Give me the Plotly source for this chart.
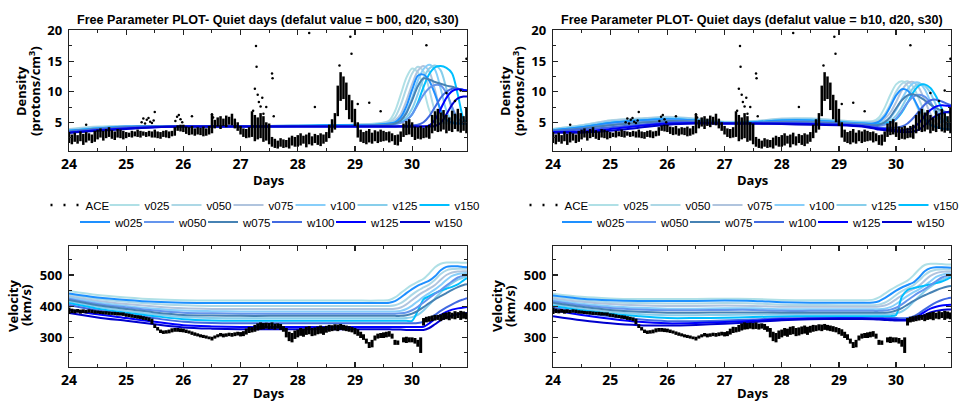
import plotly.graph_objects as go

W, H = 963, 405

# ---------------- data ----------------
SERIES = ["v025", "v050", "v075", "v100", "v125", "v150",
          "w025", "w050", "w075", "w100", "w125", "w150"]
COLORS = ["#B0E0E6", "#ADD8E6", "#B0C4DE", "#87CEFA", "#87CEEB", "#00BFFF",
          "#1E90FF", "#6495ED", "#4682B4", "#4169E1", "#0000FF", "#0000CD"]

T = [24.0, 24.5, 25.0, 25.5, 26.0, 26.5, 27.0, 27.5, 28.0, 28.5, 29.0, 29.4,
     29.6, 29.7, 29.8, 29.9, 30.0, 30.1, 30.2, 30.3, 30.4, 30.5, 30.6, 30.7, 30.8, 30.9, 30.96]

# density, default b00
DENS_B00 = {
    "v025": [3.9,4.3,4.4,4.4,4.4,4.4,4.4,4.4,4.5,4.5,4.6,4.8, 5.3,6.8,9.5,12.3,13.8,13.2,10.5,7.0,5.3,4.9,4.8,4.8,4.8,4.8,4.8],
    "v050": [3.8,4.2,4.4,4.4,4.4,4.4,4.4,4.4,4.5,4.5,4.6,4.8, 5.1,5.8,7.8,10.6,13.0,14.1,13.3,10.4,6.8,5.2,4.9,4.8,4.8,4.8,4.8],
    "v075": [3.8,4.2,4.3,4.4,4.4,4.4,4.4,4.4,4.5,4.5,4.6,4.7, 5.0,5.3,6.3,8.5,11.2,13.4,14.2,13.3,10.3,6.8,5.2,4.9,4.8,4.8,4.8],
    "v100": [3.7,4.1,4.3,4.4,4.4,4.4,4.4,4.4,4.5,4.5,4.5,4.7, 4.9,5.1,5.6,6.8,9.0,11.8,13.7,14.4,13.6,10.5,6.9,5.2,4.9,4.8,4.8],
    "v125": [3.7,4.1,4.3,4.4,4.4,4.4,4.4,4.4,4.4,4.5,4.5,4.6, 4.8,4.9,5.2,5.8,7.2,9.6,12.2,13.8,14.3,13.5,10.5,7.0,5.3,4.9,4.8],
    "v150": [3.6,4.0,4.2,4.3,4.4,4.4,4.4,4.4,4.4,4.5,4.5,4.6, 4.7,4.8,5.0,5.4,6.3,8.2,10.8,12.9,14.0,14.2,13.9,13.0,9.5,5.5,4.9],
    "w025": [3.6,4.0,4.3,4.4,4.4,4.4,4.4,4.4,4.4,4.5,4.5,4.6, 4.8,5.0,5.8,7.6,10.3,12.6,12.8,11.8,9.6,7.0,5.4,4.9,4.8,4.8,4.8],
    "w050": [3.5,3.9,4.2,4.3,4.3,4.3,4.3,4.3,4.4,4.4,4.4,4.5, 4.6,4.7,4.9,5.3,6.3,7.9,9.5,10.6,11.1,11.0,9.8,7.5,5.6,5.0,4.9],
    "w075": [3.5,3.9,4.2,4.3,4.3,4.3,4.3,4.3,4.4,4.4,4.4,4.5, 4.6,4.8,5.3,6.5,8.6,10.9,12.2,12.0,11.6,11.3,11.0,10.8,10.5,10.3,10.2],
    "w100": [3.4,3.8,4.1,4.3,4.3,4.3,4.3,4.3,4.3,4.3,4.3,4.3, 4.3,4.3,4.4,4.4,4.5,4.6,5.0,6.0,7.5,9.0,10.0,10.5,10.5,10.3,10.2],
    "w125": [3.3,3.7,4.0,4.2,4.3,4.3,4.3,4.3,4.3,4.3,4.3,4.3, 4.3,4.3,4.3,4.3,4.3,4.3,4.3,4.5,5.4,7.2,9.0,10.1,10.4,10.3,10.2],
    "w150": [3.3,3.6,3.9,4.2,4.3,4.3,4.3,4.3,4.3,4.3,4.3,4.3, 4.3,4.3,4.3,4.3,4.3,4.3,4.3,4.3,4.4,4.9,6.3,7.9,8.9,9.2,9.2],
}

# density, default b10
DENS_B10 = {
    "v025": [3.9,4.5,5.3,5.6,5.8,5.5,5.0,5.1,5.5,5.6,5.3,5.1, 5.2,5.8,7.4,9.5,11.2,11.7,11.0,9.0,6.8,5.2,4.5,4.2,4.0,3.9,3.9],
    "v050": [3.9,4.5,5.3,5.6,5.9,5.6,5.1,5.2,5.6,5.6,5.3,5.1, 5.1,5.4,6.3,8.0,10.0,11.3,11.7,10.8,8.8,6.6,5.0,4.4,4.1,3.9,3.9],
    "v075": [3.8,4.4,5.2,5.5,5.8,5.5,5.0,5.1,5.5,5.5,5.2,5.0, 5.0,5.1,5.6,6.6,8.3,10.2,11.4,11.6,10.6,8.6,6.4,4.9,4.3,4.0,3.9],
    "v100": [3.8,4.4,5.1,5.4,5.7,5.5,5.0,5.1,5.4,5.5,5.2,5.0, 4.9,5.0,5.2,5.8,7.0,8.8,10.4,11.4,11.5,10.4,8.4,6.2,4.8,4.2,4.0],
    "v125": [3.8,4.3,5.0,5.4,5.6,5.4,5.0,5.1,5.4,5.4,5.1,4.9, 4.8,4.9,5.0,5.3,6.1,7.5,9.2,10.6,11.3,11.0,9.8,7.8,5.8,4.5,4.1],
    "v150": [3.7,4.2,4.9,5.3,5.5,5.3,4.9,5.0,5.3,5.3,5.0,4.8, 4.7,4.7,4.8,5.0,5.5,6.6,8.2,9.9,11.0,11.2,10.6,9.2,7.2,5.2,4.4],
    "w025": [3.7,4.2,4.9,5.3,5.5,5.3,4.9,5.0,5.3,5.3,5.0,4.8, 4.8,5.1,6.0,7.6,9.4,10.4,10.2,9.0,7.2,5.6,4.6,4.2,4.0,3.9,3.8],
    "w050": [3.6,4.0,4.6,5.0,5.3,5.2,4.9,4.9,5.1,5.1,4.9,4.7, 4.5,4.5,4.6,4.9,5.6,6.8,8.2,9.2,9.5,9.2,8.2,6.8,5.4,4.6,4.3],
    "w075": [3.6,4.0,4.5,4.9,5.2,5.1,4.9,4.9,5.0,5.0,4.8,4.6, 4.5,4.6,5.0,5.9,7.3,8.6,9.4,9.6,9.2,8.6,7.9,7.3,6.9,6.6,6.5],
    "w100": [3.5,3.8,4.2,4.6,5.0,5.0,4.8,4.8,4.9,4.9,4.7,4.5, 4.3,4.2,4.1,4.1,4.1,4.3,4.8,5.7,6.8,7.9,8.6,8.7,8.4,8.0,7.8],
    "w125": [3.4,3.5,3.9,4.4,4.8,4.9,4.8,4.8,4.8,4.7,4.6,4.4, 4.1,4.0,3.9,3.8,3.7,3.7,3.8,4.1,4.9,6.0,7.0,7.6,7.8,7.7,7.6],
    "w150": [3.3,3.3,3.6,4.1,4.6,4.8,4.8,4.8,4.7,4.6,4.5,4.3, 4.0,3.8,3.7,3.6,3.5,3.4,3.4,3.5,3.8,4.5,5.4,6.1,6.5,6.7,6.7],
}

# velocity, default b00
VEL_B00 = {
    "v025": [449,436,428,422,419,418,418,418,418,418,418,418, 420,428,442,456,468,478,488,505,525,536,540,540,540,539,539],
    "v050": [437,423,414,407,403,401,401,401,401,401,401,401, 401,403,410,422,437,450,460,470,485,503,515,519,520,520,520],
    "v075": [432,417,407,399,393,391,391,391,391,391,391,391, 391,392,396,406,420,434,446,456,468,485,500,508,511,512,512],
    "v100": [428,412,401,392,386,384,383,383,383,383,383,383, 383,383,385,391,402,416,430,442,454,468,484,497,503,506,506],
    "v125": [416,398,385,374,365,362,361,361,361,361,361,361, 361,361,361,362,365,372,386,405,425,444,460,474,485,492,495],
    "v150": [410,392,379,368,358,354,353,353,353,353,353,353, 353,353,353,353,353,385,422,432,442,450,456,462,470,483,490],
    "w025": [441,428,420,414,411,410,410,410,410,410,410,410, 411,416,428,442,455,466,474,482,496,515,526,528,528,526,525],
    "w050": [424,407,396,386,379,377,376,376,376,376,376,376, 376,376,377,380,387,398,412,426,440,452,466,480,492,498,500],
    "w075": [420,403,391,380,372,370,369,369,369,369,369,369, 369,369,369,371,376,385,397,410,422,432,442,452,461,468,470],
    "w100": [404,386,373,361,350,346,345,345,345,345,345,345, 345,345,345,345,345,346,350,360,372,385,396,406,415,422,426],
    "w125": [389,374,362,350,339,335,333,333,333,333,333,333, 333,333,333,333,333,333,334,345,360,372,382,389,393,396,397],
    "w150": [378,364,353,342,332,328,326,326,326,326,326,326, 326,325,325,324,324,324,324,330,342,355,364,370,374,377,378],
}

# velocity, default b10
VEL_B10 = {
    "v025": [440,430,425,423,423,423,424,423,420,419,419,419, 421,428,440,452,463,472,482,498,518,532,536,536,535,534,534],
    "v050": [430,419,413,410,409,409,410,409,405,404,403,403, 403,405,411,422,436,448,458,467,482,500,512,517,518,518,518],
    "v075": [425,414,407,403,401,401,402,401,398,398,398,398, 398,399,402,410,422,435,446,455,466,482,497,506,510,511,511],
    "v100": [420,408,400,395,392,392,393,393,390,390,390,390, 390,390,392,397,407,420,433,444,454,466,480,494,501,505,505],
    "v125": [406,392,382,375,371,371,372,373,373,373,373,373, 373,373,373,374,377,383,395,413,431,448,462,475,485,492,495],
    "v150": [401,387,376,368,362,362,363,365,367,368,368,368, 368,368,368,368,372,430,452,458,462,466,470,474,479,487,492],
    "w025": [434,424,419,417,417,417,418,417,413,411,411,411, 412,416,426,438,450,460,468,476,492,512,522,525,525,524,523],
    "w050": [416,403,394,389,387,387,388,388,385,385,385,385, 385,385,386,389,395,406,419,432,444,455,467,480,492,498,500],
    "w075": [411,398,388,382,379,379,380,380,379,379,379,379, 379,379,379,381,386,394,405,416,426,435,443,451,458,463,465],
    "w100": [395,380,368,358,352,352,354,357,361,362,362,362, 362,362,362,362,362,361,362,367,377,390,402,412,420,425,427],
    "w125": [387,372,360,350,345,346,349,353,358,360,361,361, 360,360,359,358,357,356,356,360,370,382,392,398,402,404,405],
    "w150": [368,355,345,339,338,340,344,349,355,358,359,359, 358,357,356,355,354,354,354,357,363,372,380,385,388,389,389],
}

# ACE observations (sampled every 0.05 day): low / high envelope of the point cloud
ACE_T = [round(24.0 + 0.05 * i, 2) for i in range(140)]
DENS_LO = [
    1.6,1.4,1.8,1.5,1.9,1.3,1.7,2.0,1.6,1.8,
    2.2,2.5,2.0,2.4,2.6,2.3,2.1,2.5,2.4,2.2,
    2.4,2.6,2.5,2.7,2.6,2.5,2.8,2.6,2.7,2.5,
    2.5,2.4,2.3,2.6,2.5,2.4,2.7,2.8,3.6,3.5,
    3.4,3.1,2.9,3.0,2.8,3.0,2.9,2.7,2.8,3.0,
    3.2,4.0,4.3,3.9,4.4,4.2,4.6,4.5,4.0,3.6,
    3.0,2.6,2.4,2.5,2.6,1.9,2.2,2.4,1.8,2.0,
    1.4,1.0,0.8,0.7,1.0,0.8,0.9,0.7,1.2,1.0,
    1.0,1.2,1.5,0.9,1.4,1.2,1.6,1.3,1.1,1.5,
    1.8,2.4,3.3,3.8,6.0,8.5,8.8,7.0,5.5,5.0,
    4.4,2.5,1.8,1.6,1.4,1.7,1.5,1.9,1.6,1.8,
    1.9,2.0,1.7,1.9,1.3,1.2,1.8,2.6,2.9,3.0,
    2.6,2.1,2.3,2.2,2.4,2.5,2.3,3.2,3.6,3.4,
    3.5,3.8,3.2,3.6,3.4,3.9,3.5,3.3,3.6,3.2]
DENS_HI = [
    3.4,3.0,3.3,2.9,3.5,3.1,3.4,3.2,3.0,3.6,
    3.8,4.0,3.6,3.9,4.2,3.7,3.5,3.9,3.8,3.6,
    3.4,3.3,3.6,3.5,3.8,3.6,3.5,3.4,3.6,3.5,
    3.8,3.5,3.4,3.6,3.7,3.5,3.6,4.2,4.5,4.6,
    4.6,4.3,4.2,4.4,4.0,4.2,4.1,4.3,4.0,4.4,
    6.3,5.4,5.8,6.0,5.6,6.1,5.9,6.4,5.6,5.0,
    4.4,4.0,3.9,4.2,6.8,6.2,5.8,6.5,6.0,5.0,
    4.8,2.6,2.3,2.0,2.4,2.2,2.1,2.5,2.8,2.6,
    2.9,3.2,2.8,3.0,3.3,2.7,3.1,2.9,3.2,3.0,
    3.4,4.6,5.5,6.5,11.0,13.2,12.5,11.5,9.5,8.6,
    7.2,5.0,3.8,3.4,3.6,3.9,3.3,3.7,3.5,3.8,
    3.6,3.4,3.5,3.2,2.9,3.0,3.5,4.8,5.2,5.5,
    5.0,4.3,4.2,4.4,4.1,4.4,4.6,6.2,6.8,7.2,
    6.6,7.0,6.2,5.8,6.9,6.4,7.2,6.5,6.0,7.4]
# isolated ACE density points / small clusters
DENS_EXT_T = [25.27,25.30,25.33,25.36,25.39,25.42,25.45,25.48,
              25.86,25.89,25.92,25.95,25.98, 26.50,26.52,
              27.22,27.25,27.27,27.28,27.30,27.32,27.35,27.38,27.40,27.45,
              27.55,27.56,27.58, 28.20,28.30, 28.73,28.92,28.94,
              29.25,29.45, 30.25, 30.95, 24.30, 25.50, 26.15, 29.05, 30.60, 30.75, 30.85]
DENS_EXT_V = [5.0,5.6,4.8,5.4,5.7,5.1,4.9,5.3,
              5.2,5.9,6.2,5.5,5.0, 6.3,5.8,
              6.9,10.5,17.5,14.1,9.5,8.3,7.6,9.0,6.4,7.5,
              13.0,12.2,6.0, 19.6,7.5, 14.3,19.0,16.2,
              8.2,6.8, 17.6, 15.4, 4.6, 6.7, 6.0, 8.0, 9.8, 8.5, 10.2]

VEL_LO = [
    375,378,377,379,376,378,377,379,378,376,
    376,375,374,373,372,372,371,370,370,369,
    366,365,363,362,360,359,356,355,352,342,
    330,322,314,311,312,313,316,318,318,317,
    316,314,312,308,305,303,300,298,296,294,
    290,296,300,303,300,302,304,302,304,306,
    303,304,309,314,316,318,322,325,326,328,
    326,327,325,328,324,318,300,288,284,295,
    300,305,302,308,310,304,306,310,312,308,
    315,318,320,322,320,324,322,320,318,316,
    310,305,298,292,280,266,268,290,296,298,
    298,300,302,296,276,276,None,284,282,284,
    284,280,270,250,338,348,350,352,354,356,
    352,356,358,355,360,358,362,356,360,358]
VEL_HI = [
    396,392,390,391,389,390,388,390,389,387,
    386,385,384,384,383,382,382,381,380,380,
    377,376,374,372,371,370,368,366,364,360,
    342,333,325,322,323,325,329,330,330,329,
    328,325,322,319,316,313,310,308,306,303,
    302,306,310,314,312,313,315,314,316,318,
    317,320,328,334,333,340,345,348,346,347,
    346,348,344,345,343,336,330,318,314,322,
    325,330,328,334,336,330,332,335,338,334,
    337,340,339,342,341,343,340,338,336,333,
    330,326,318,310,296,285,292,306,312,314,
    316,318,320,312,292,290,None,300,302,300,
    300,298,292,300,362,366,368,370,372,372,
    374,378,380,382,379,384,381,385,383,380]

TITLES = ["Free Parameter PLOT- Quiet days (defalut value = b00, d20, s30)",
          "Free Parameter PLOT- Quiet days (defalut value = b10, d20, s30)"]

# ---------------- helpers ----------------
def px(x):
    return x / W

def py(y):
    return 1 - y / H

def segments(t, lo, hi):
    xs, ys = [], []
    for ti, a, b in zip(t, lo, hi):
        if a is None or b is None:
            continue
        xs += [ti, ti, None]
        ys += [a, b, None]
    return xs, ys

TICKF = "Open Sans"
TXTF = "Liberation Sans"
FRAME = "#222222"

def entry_width(name):
    # last entry of each legend row keeps its full text width
    if name == "v150":
        return 27
    if name == "w150":
        return 29
    return 17 if name.startswith("v") else 19

fig = go.Figure()

panels = [
    ("x", "y", DENS_B00, "legend", "legend2", True),
    ("x3", "y3", VEL_B00, None, None, False),
    ("x2", "y2", DENS_B10, "legend3", "legend4", True),
    ("x4", "y4", VEL_B10, None, None, False),
]

for xa, ya, data, leg1, leg2, is_top in panels:
    if leg1:
        fig.add_trace(go.Scatter(x=[None], y=[None], mode="lines", name="ACE",
                                 line=dict(color="black", width=2.5, dash="2px,11px"),
                                 xaxis=xa, yaxis=ya, legend=leg1, showlegend=True,
                                 legendwidth=14))
    for name, col in zip(SERIES, COLORS):
        leg = (leg1 if name.startswith("v") else leg2)
        fig.add_trace(go.Scatter(
            x=T, y=data[name], mode="lines", name=name,
            line=dict(color=col, width=2, shape="spline", smoothing=0.8),
            xaxis=xa, yaxis=ya,
            legend=leg if leg else "legend",
            legendwidth=entry_width(name),
            showlegend=bool(leg), hoverinfo="skip"))
    if is_top:
        sx, sy = segments(ACE_T, DENS_LO, DENS_HI)
        fig.add_trace(go.Scatter(x=sx, y=sy, mode="lines", line=dict(color="black", width=2.5),
                                 xaxis=xa, yaxis=ya, showlegend=False, hoverinfo="skip"))
        fig.add_trace(go.Scatter(x=DENS_EXT_T, y=DENS_EXT_V, mode="markers",
                                 marker=dict(color="black", size=2.5),
                                 xaxis=xa, yaxis=ya, showlegend=False, hoverinfo="skip"))
    else:
        sx, sy = segments(ACE_T, VEL_LO, VEL_HI)
        fig.add_trace(go.Scatter(x=sx, y=sy, mode="lines", line=dict(color="black", width=3),
                                 xaxis=xa, yaxis=ya, showlegend=False, hoverinfo="skip"))

# ---------------- axes ----------------
XL = [px(69), px(467)]
XR = [px(553), px(951)]
YT = [py(151), py(30)]
YB = [py(367), py(246)]

def xaxis(domain, anchor):
    return dict(domain=domain, anchor=anchor, range=[24, 30.96], tick0=24, dtick=1,
                ticks="inside", ticklen=5, tickwidth=1.2, tickcolor=FRAME,
                minor=dict(tick0=24, dtick=0.5, ticks="inside", ticklen=3, tickwidth=1, tickcolor=FRAME),
                showline=True, linecolor=FRAME, linewidth=1.3, mirror="allticks",
                showgrid=False, zeroline=False, fixedrange=True,
                tickfont=dict(family=TICKF, size=14, color="black", weight="bold"))

def yaxis(domain, anchor, rng, dt):
    return dict(domain=domain, anchor=anchor, range=rng, tick0=0, dtick=dt,
                ticks="inside", ticklen=5, tickwidth=1.2, tickcolor=FRAME,
                minor=dict(tick0=0, dtick=dt / 2, ticks="inside", ticklen=3, tickwidth=1, tickcolor=FRAME),
                showline=True, linecolor=FRAME, linewidth=1.3, mirror="allticks",
                showgrid=False, zeroline=False, fixedrange=True, ticklabelstandoff=3,
                tickfont=dict(family=TICKF, size=13, color="black", weight="bold"))

fig.update_layout(
    xaxis=xaxis(XL, "y"), yaxis=yaxis(YT, "x", [0.3, 20.1], 5),
    xaxis2=xaxis(XR, "y2"), yaxis2=yaxis(YT, "x2", [0.3, 20.1], 5),
    xaxis3=xaxis(XL, "y3"), yaxis3=yaxis(YB, "x3", [205, 593], 100),
    xaxis4=xaxis(XR, "y4"), yaxis4=yaxis(YB, "x4", [205, 593], 100),
)

# ---------------- legends ----------------
def leg(xc, yc):
    return dict(orientation="h", x=px(xc), y=py(yc), xanchor="center", yanchor="middle",
                bgcolor="rgba(0,0,0,0)", itemwidth=30, tracegroupgap=0,
                font=dict(family=TXTF, size=11.5, color="black"))

fig.update_layout(legend=leg(266, 205), legend2=leg(272, 222),
                  legend3=leg(745, 205), legend4=leg(754, 222))

# ---------------- text ----------------
ann = []
for xc, title in zip([268, 752], TITLES):
    ann.append(dict(x=px(xc), y=py(20), xref="paper", yref="paper", text=title, showarrow=False,
                    xanchor="center", yanchor="middle",
                    font=dict(family=TXTF, size=12.6, color="black", weight="bold")))
    for yc in [180, 393]:
        ann.append(dict(x=px(xc), y=py(yc), xref="paper", yref="paper", text="Days", showarrow=False,
                        xanchor="center", yanchor="middle",
                        font=dict(family=TICKF, size=13, color="black", weight="bold")))

def vtext(xc, yc, text):
    return dict(x=px(xc), y=py(yc), xref="paper", yref="paper", text=text, textangle=-90,
                showarrow=False, xanchor="center", yanchor="middle",
                font=dict(family=TICKF, size=13, color="black", weight="bold"))

for x0 in [69, 553]:
    ann.append(vtext(x0 - 48, 91, "Density"))
    ann.append(vtext(x0 - 35, 91, "(protons/cm<sup>3</sup>)"))
    ann.append(vtext(x0 - 56, 306, "Velocity"))
    ann.append(vtext(x0 - 43, 306, "(km/s)"))

fig.update_layout(annotations=ann, width=W, height=H, autosize=False,
                  margin=dict(l=0, r=0, t=0, b=0, autoexpand=False),
                  paper_bgcolor="white", plot_bgcolor="white", hovermode=False)

# the page's default 8px body margin would shift the fixed-size figure; remove it
fig.write_html("out.html", config={"displayModeBar": False, "staticPlot": True},
               post_script="document.body.style.margin='0px';")
